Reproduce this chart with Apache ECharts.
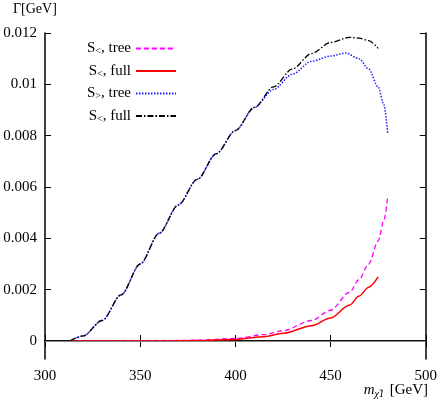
<!DOCTYPE html>
<html>
<head>
<meta charset="utf-8">
<script src="https://cdn.jsdelivr.net/npm/echarts@6/dist/echarts.min.js"></script>
<style>html,body{margin:0;padding:0;background:#fff}#main{width:440px;height:409px}</style>
</head>
<body>
<div id="main"></div>
<script>
const treeLess = [[313,0],[340,0],[360,0.00001],[380,0.00003],[400,0.0001],[415,0.00025],[425,0.0004],[440,0.0008],[450,0.0012],[460,0.0019],[465,0.0024],[470,0.003],[475,0.0039],[478,0.0047],[480,0.0056]];
const fullLess = [[313,0],[340,0],[360,0],[380,0.00002],[400,0.00006],[415,0.00017],[425,0.0003],[440,0.0006],[450,0.0009],[460,0.0014],[465,0.00175],[470,0.0021],[475,0.0025]];
const treeMore = [[313,0],[320,0.0002],[330,0.0008],[340,0.0018],[350,0.003],[360,0.0042],[370,0.0053],[380,0.0063],[390,0.0073],[400,0.0082],[410,0.0091],[420,0.0098],[430,0.0104],[440,0.0109],[450,0.0111],[458,0.01122],[465,0.011],[470,0.0106],[475,0.0099],[478,0.0092],[480,0.0081]];
const fullMore = [[313,0],[320,0.0002],[330,0.0008],[340,0.0018],[350,0.003],[360,0.0042],[370,0.0053],[380,0.0063],[390,0.0073],[400,0.0082],[410,0.0091],[420,0.0099],[430,0.0106],[440,0.0112],[450,0.01163],[460,0.01183],[465,0.0118],[470,0.0117],[475,0.0114]];
const xTicks = [300, 350, 400, 450, 500];
const yTicks = [0, 0.002, 0.004, 0.006, 0.008, 0.01, 0.012];

const font = 'Liberation Serif';
const rich = { s: { fontSize: 10, verticalAlign: 'bottom', padding: [6, 0, 0, 0], fontFamily: font, color: '#000' } };
const chart = echarts.init(document.getElementById('main'));
const baseAxis = { axisLine: { lineStyle: { color: '#000', width: 1.5 } }, axisTick: { inside: true, length: 6, lineStyle: { color: '#000' } }, splitLine: { show: false } };
function line(name, data, color, type, width) {
  return { name, type: 'line', data, showSymbol: false, symbol: 'none', smooth: 0.3, smoothMonotone: 'x', lineStyle: { color, type, width }, itemStyle: { color }, z: 3 };
}
chart.setOption({
  animation: false,
  grid: { left: 45, right: 14, top: 33, bottom: 50 },
  xAxis: [
    Object.assign({ type: 'value', min: 300, max: 500, interval: 50, position: 'bottom',
      axisLabel: { color: '#000', fontFamily: font, fontSize: 15, margin: 10 } }, baseAxis),
    Object.assign({ type: 'value', min: 300, max: 500, interval: 50, position: 'top', axisLabel: { show: false } }, baseAxis)
  ],
  yAxis: [
    Object.assign({ type: 'value', min: -0.0007, max: 0.012, position: 'left',
      axisLabel: { color: '#000', fontFamily: font, fontSize: 15, margin: 8,
        customValues: yTicks, formatter: v => v === 0 ? '0' : String(+v.toFixed(3)) },
      axisTick: { inside: true, length: 6, customValues: yTicks, lineStyle: { color: '#000' } } }, {
      axisLine: baseAxis.axisLine, splitLine: { show: false } }),
    Object.assign({ type: 'value', min: -0.0007, max: 0.012, position: 'right', axisLabel: { show: false },
      axisTick: { inside: true, length: 6, customValues: yTicks, lineStyle: { color: '#000' } } }, {
      axisLine: baseAxis.axisLine, splitLine: { show: false } })
  ],
  legend: {
    orient: 'vertical', left: 82, top: 36, align: 'right', itemWidth: 40, itemHeight: 10, itemGap: 7,
    itemStyle: { opacity: 0 },
    textStyle: { fontFamily: font, fontSize: 15, color: '#000', rich },
    formatter: n => ({ a: 'S{s|<}, tree', b: 'S{s|<}, full', c: 'S{s|>}, tree', d: 'S{s|<}, full' })[n]
  },
  series: [
    Object.assign(line('a', treeLess, '#ff00ff', [5, 3], 1.3), {
      markLine: { silent: true, symbol: 'none', label: { show: false }, lineStyle: { color: '#888', type: 'solid', width: 1 }, data: [{ yAxis: 0 }] } }),
    line('b', fullLess, '#ff0000', 'solid', 1.5),
    line('c', treeMore, '#2020ff', [1.5, 1.5], 1.5),
    line('d', fullMore, '#000000', [6, 2, 1.5, 2], 1.3)
  ],
  graphic: [
    { type: 'text', left: 13, top: 2, style: { text: 'Γ[GeV]', font: '14px "Liberation Serif"', fill: '#000' } },
    { type: 'text', right: 12, top: 383, style: { text: '{m|m}{s|χ̃1} [GeV]', font: '15px "Liberation Serif"', fill: '#000',
      rich: { m: { fontSize: 15, fontStyle: 'italic', fontFamily: font }, s: { fontSize: 10, fontStyle: 'italic', padding: [8, 2, 0, 0], fontFamily: font } } } }
  ]
});
</script>
</body>
</html>
